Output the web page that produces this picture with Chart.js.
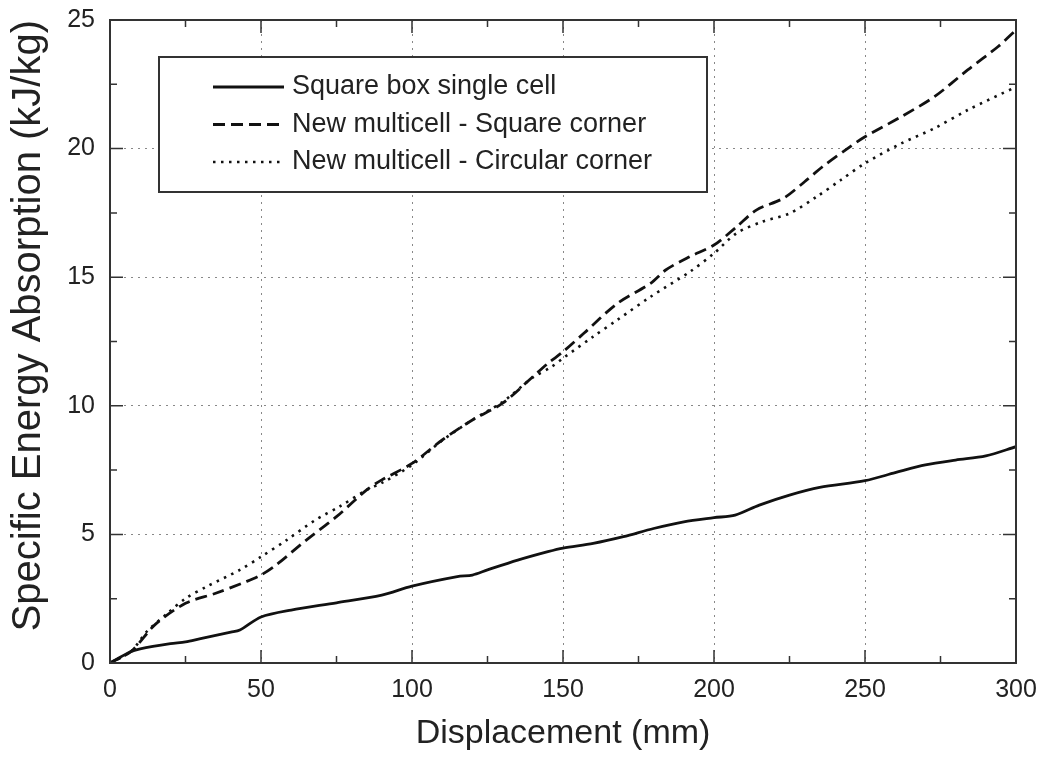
<!DOCTYPE html>
<html>
<head>
<meta charset="utf-8">
<script src="https://cdn.jsdelivr.net/npm/chart.js@4/dist/chart.umd.min.js"></script>
<style>
html,body{margin:0;padding:0;background:#fff;}
#wrap{width:1038px;height:758px;}
</style>
</head>
<body>
<div id="wrap"><canvas id="c" width="1038" height="758"></canvas></div>
<script>
// ---- data ----
const seriesLabels = ["Square box single cell", "New multicell - Square corner", "New multicell - Circular corner"];
const singleX = [0,6.6,10,20,25,30,40,43,50,60,75,90,100,115,120,125,135,145,150,160,170,180,190,200,207,215,225,235,250,260,270,280,290,300];
const singleY = [0,0.43,0.55,0.75,0.82,0.95,1.2,1.28,1.79,2.06,2.34,2.64,2.99,3.36,3.42,3.62,4.0,4.33,4.47,4.65,4.91,5.23,5.49,5.65,5.75,6.14,6.53,6.83,7.09,7.40,7.70,7.89,8.05,8.41];
const squareX = [0,7,15,25,35,45,50,55,65,75,85,90,100,110,120,130,140,145,150,157,168,179,184,192,200,207.5,214,223,230,236,245,250,262,273,284,294,300];
const squareY = [0,0.45,1.5,2.32,2.71,3.16,3.42,3.81,4.78,5.69,6.73,7.12,7.76,8.67,9.45,10.1,11.13,11.65,12.1,12.83,13.98,14.76,15.28,15.8,16.25,16.96,17.61,18.07,18.71,19.3,20.07,20.46,21.24,22.02,23.06,23.96,24.61];
const circX = [0,7,12,19,25,32,43,50,58.5,68,76,85,90,100,110,120,130,140,146,150,160,168,179,192,200,207.5,216,225,234,242,250,262,273,284,300];
const circY = [0,0.45,1.2,1.93,2.51,2.97,3.62,4.13,4.78,5.56,6.08,6.73,7.0,7.7,8.65,9.45,10.15,11.1,11.5,11.85,12.69,13.34,14.24,15.21,15.93,16.71,17.16,17.48,18.13,18.78,19.43,20.2,20.79,21.5,22.4];
const xTicks = [0,50,100,150,200,250,300];
const yTicks = [0,5,10,15,20,25];
const xTitle = "Displacement (mm)";
const yTitle = "Specific Energy Absorption (kJ/kg)";

const pts = (xs, ys) => xs.map((x, i) => ({x: x, y: ys[i]}));
const FONT = "'Liberation Sans', Arial, sans-serif";

// frame + inward ticks on all sides
const framePlugin = {
  id: 'frame',
  afterDatasetsDraw(chart) {
    const {ctx, chartArea: a, scales: {x, y}} = chart;
    ctx.save();
    ctx.strokeStyle = '#333';
    ctx.lineWidth = 2;
    ctx.setLineDash([]);
    ctx.strokeRect(a.left, a.top, a.right - a.left, a.bottom - a.top);
    ctx.lineWidth = 1.5;
    for (let v = 0; v <= 300; v += 25) {
      const px = x.getPixelForValue(v);
      const L = (v % 50 === 0) ? 13 : 7;
      ctx.beginPath();
      ctx.moveTo(px, a.bottom); ctx.lineTo(px, a.bottom - L);
      ctx.moveTo(px, a.top); ctx.lineTo(px, a.top + L);
      ctx.stroke();
    }
    for (let v = 0; v <= 25; v += 2.5) {
      const py = y.getPixelForValue(v);
      const L = (v % 5 === 0) ? 13 : 7;
      ctx.beginPath();
      ctx.moveTo(a.left, py); ctx.lineTo(a.left + L, py);
      ctx.moveTo(a.right, py); ctx.lineTo(a.right - L, py);
      ctx.stroke();
    }
    ctx.restore();
  }
};

// legend box inside the plot
const legendPlugin = {
  id: 'boxLegend',
  afterDraw(chart) {
    const {ctx} = chart;
    const bx = 159, by = 57, bw = 548, bh = 135;
    ctx.save();
    ctx.fillStyle = '#fff';
    ctx.fillRect(bx, by, bw, bh);
    ctx.strokeStyle = '#333';
    ctx.lineWidth = 2;
    ctx.setLineDash([]);
    ctx.strokeRect(bx, by, bw, bh);
    chart.data.datasets.forEach((ds, i) => {
      const yy = by + 30 + i * 37.5;
      ctx.strokeStyle = ds.borderColor;
      ctx.lineWidth = ds.borderWidth;
      ctx.setLineDash(ds.borderDash || []);
      ctx.beginPath();
      ctx.moveTo(213, yy); ctx.lineTo(284, yy);
      ctx.stroke();
      ctx.setLineDash([]);
      ctx.fillStyle = '#222';
      ctx.font = '27px ' + FONT;
      ctx.textBaseline = 'middle';
      ctx.textAlign = 'left';
      ctx.fillText(ds.label, 292, yy);
    });
    ctx.restore();
  }
};

new Chart(document.getElementById('c'), {
  type: 'line',
  data: {
    datasets: [
      {label: seriesLabels[0], data: pts(singleX, singleY), borderColor: '#111', borderWidth: 2.8, borderDash: [], pointRadius: 0, tension: 0.3, fill: false},
      {label: seriesLabels[1], data: pts(squareX, squareY), borderColor: '#111', borderWidth: 2.8, borderDash: [12, 6], pointRadius: 0, tension: 0.3, fill: false},
      {label: seriesLabels[2], data: pts(circX, circY), borderColor: '#111', borderWidth: 2.6, borderDash: [2.5, 5.5], pointRadius: 0, tension: 0.3, fill: false}
    ]
  },
  options: {
    responsive: false,
    animation: false,
    layout: {padding: {left: 0, top: 20, right: 22, bottom: 0}},
    plugins: {legend: {display: false}, tooltip: {enabled: false}},
    scales: {
      x: {
        type: 'linear', min: 0, max: 300,
        afterBuildTicks: s => { s.ticks = xTicks.map(v => ({value: v})); },
        afterFit: s => { s.height = 95; s.paddingLeft = 0; s.paddingRight = 0; },
        grid: {color: '#888', lineWidth: 1, drawTicks: false},
        border: {display: false, dash: [2, 5]},
        ticks: {color: '#222', font: {size: 25, family: FONT}, padding: 12, maxRotation: 0},
        title: {display: true, text: xTitle, color: '#222', font: {size: 34, family: FONT}, padding: {top: 0, bottom: 4}}
      },
      y: {
        type: 'linear', min: 0, max: 25,
        afterBuildTicks: s => { s.ticks = yTicks.map(v => ({value: v})); },
        afterFit: s => { s.width = 110; s.paddingTop = 0; s.paddingBottom = 0; },
        grid: {color: '#888', lineWidth: 1, drawTicks: false},
        border: {display: false, dash: [2, 5]},
        ticks: {color: '#222', font: {size: 25, family: FONT}, padding: 15},
        title: {display: true, text: yTitle, align: 'end', color: '#222', font: {size: 40, family: FONT}, padding: {top: 5, bottom: 0}}
      }
    }
  },
  plugins: [framePlugin, legendPlugin]
});
</script>
</body>
</html>
